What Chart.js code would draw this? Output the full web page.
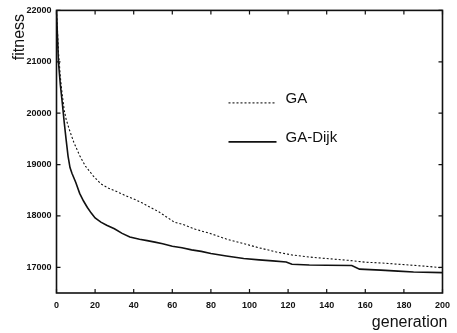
<!DOCTYPE html>
<html>
<head>
<meta charset="utf-8">
<script src="https://cdn.jsdelivr.net/npm/chart.js@4/dist/chart.umd.min.js"></script>
<style>
html,body{margin:0;padding:0;background:#fff;}
#wrap{width:457px;height:333px;position:relative;}
</style>
</head>
<body>
<div id="wrap"><canvas id="c" width="457" height="333"></canvas></div>
<script>
// ---- data ----
const gaGen  = [0,1,2,3,4,5,7,9,12,15,19,23,27,32,36,40,44,48,53,57,61,65.5,72,80,88,97,105,114,122,131,140,151,160,168,177,185,193,200];
const gaFit  = [22000,21200,20700,20350,20060,19880,19640,19430,19175,18970,18780,18625,18540,18460,18390,18330,18260,18180,18080,17980,17880,17835,17740,17654,17550,17460,17380,17297,17240,17200,17170,17136,17100,17085,17060,17039,17015,16990];
const dijkGen = [0,1,2,3,4,5,6,7,8,10,12,14,16,18,20,23,26,30,34,38,43,47,51,55,60,65,70,75,80,88,97,105,112,119,122,131,140,153,157,168,177,185,200];
const dijkFit = [22000,21000,20550,20200,19820,19480,19160,18940,18830,18650,18440,18290,18165,18055,17960,17880,17820,17750,17660,17590,17545,17520,17490,17460,17410,17380,17340,17310,17270,17220,17170,17145,17125,17103,17058,17045,17040,17035,16965,16945,16925,16910,16897];
const xTicks = [0,20,40,60,80,100,120,140,160,180,200];
const yTicks = [17000,18000,19000,20000,21000,22000];
const seriesNames = ['GA','GA-Dijk'];
const xTitle = 'generation';
const yTitle = 'fitness';

const ink = '#111';
const FONT = '"Liberation Sans", Arial, sans-serif';
const toPts = (g, f) => g.map((x, i) => ({x: x, y: f[i]}));

const framePlugin = {
  id: 'frame',
  afterDatasetsDraw(chart) {
    const {ctx, chartArea: a, scales: {x, y}} = chart;
    ctx.save();
    ctx.strokeStyle = ink;
    ctx.lineWidth = 1.6;
    ctx.strokeRect(a.left, a.top, a.right - a.left, a.bottom - a.top);
    ctx.lineWidth = 1.2;
    const tl = 4;
    ctx.beginPath();
    xTicks.forEach(v => {
      const px = x.getPixelForValue(v);
      ctx.moveTo(px, a.bottom); ctx.lineTo(px, a.bottom - tl);
      ctx.moveTo(px, a.top); ctx.lineTo(px, a.top + tl);
    });
    yTicks.forEach(v => {
      const py = y.getPixelForValue(v);
      ctx.moveTo(a.left, py); ctx.lineTo(a.left + tl, py);
      ctx.moveTo(a.right, py); ctx.lineTo(a.right - tl, py);
    });
    ctx.stroke();
    // legend inside plot
    const ds = chart.data.datasets;
    const lx0 = a.left + 172, lx1 = a.left + 220, tx = a.left + 229;
    const rows = [a.top + 92.5, a.top + 131.5];
    ds.forEach((d, i) => {
      ctx.beginPath();
      ctx.setLineDash(d.borderDash || []);
      ctx.lineWidth = d.borderWidth;
      ctx.strokeStyle = d.borderColor;
      ctx.moveTo(lx0, rows[i]); ctx.lineTo(lx1, rows[i]);
      ctx.stroke();
      ctx.setLineDash([]);
      ctx.fillStyle = ink;
      ctx.font = '15px ' + FONT;
      ctx.textBaseline = 'middle';
      ctx.textAlign = 'left';
      ctx.fillText(d.label, tx, rows[i] - 4);
    });
    // axis titles
    ctx.fillStyle = ink;
    ctx.font = '16px ' + FONT;
    ctx.textBaseline = 'alphabetic';
    ctx.textAlign = 'right';
    ctx.fillText(xTitle, a.right + 5, 327);
    ctx.save();
    ctx.translate(24, a.top + 3.5);
    ctx.rotate(-Math.PI / 2);
    ctx.textAlign = 'right';
    ctx.fillText(yTitle, 0, 0);
    ctx.restore();
    ctx.restore();
  }
};

new Chart(document.getElementById('c'), {
  type: 'line',
  data: {
    datasets: [
      {label: seriesNames[0], data: toPts(gaGen, gaFit), borderColor: ink, borderWidth: 1.1, borderDash: [2, 2], pointRadius: 0, tension: 0, fill: false},
      {label: seriesNames[1], data: toPts(dijkGen, dijkFit), borderColor: ink, borderWidth: 1.6, pointRadius: 0, tension: 0, fill: false}
    ]
  },
  options: {
    responsive: false,
    animation: false,
    layout: {padding: {top: 9.5, right: 8, left: 0, bottom: 0}},
    plugins: {legend: {display: false}, tooltip: {enabled: false}},
    scales: {
      x: {
        type: 'linear', min: 0, max: 200,
        afterBuildTicks: s => { s.ticks = xTicks.map(v => ({value: v})); },
        afterFit: s => { s.height = 40; },
        grid: {display: false, drawTicks: false},
        border: {display: false},
        ticks: {color: ink, padding: 7, maxRotation: 0, font: {family: FONT, size: 9, weight: 'bold'}}
      },
      y: {
        type: 'linear', min: 16500, max: 22000,
        afterBuildTicks: s => { s.ticks = yTicks.map(v => ({value: v})); },
        afterFit: s => { s.width = 56.5; },
        grid: {display: false, drawTicks: false},
        border: {display: false},
        ticks: {color: ink, padding: 5, callback: v => String(v), font: {family: FONT, size: 9, weight: 'bold'}}
      }
    }
  },
  plugins: [framePlugin]
});
</script>
</body>
</html>
